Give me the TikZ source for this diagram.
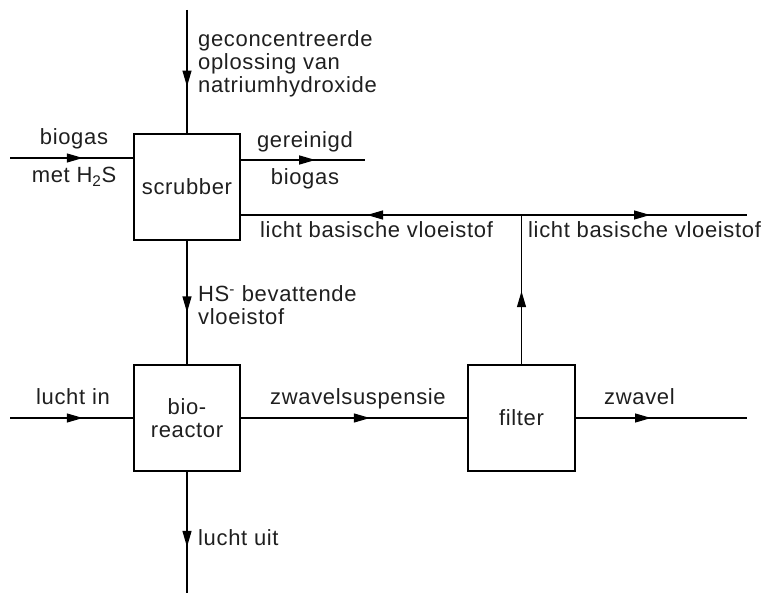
\documentclass[tikz,border=0pt]{standalone}
\usepackage{fontspec}
\setmainfont[LetterSpace=3]{Liberation Sans}
\usetikzlibrary{arrows.meta,decorations.markings,positioning}
\tikzset{
  unit/.style={draw, line width=1.2pt, minimum width=106pt, minimum height=106pt, inner sep=0pt, align=center},
  flow/.style={line width=1.2pt, postaction={decorate},
    decoration={markings, mark=at position #1 with {\arrow{Triangle[length=16pt,width=9pt]}}}},
  lbl/.style={anchor=base west, inner sep=0pt, align=left},
  clbl/.style={anchor=base, inner sep=0pt}
}
\begin{document}
\begin{tikzpicture}[x=1pt,y=-1pt,font=\fontsize{22}{23}\selectfont,text=black!88]
    \useasboundingbox (0,0) rectangle (763,593);
    \node[unit] (scrubber) at (187,187) {scrubber};
    \node[unit] (reactor) at (187,418) {bio-\\reactor};
    \node[unit, minimum width=107pt] (filter) at (521.5,418) {filter};
    \coordinate (naohin) at (187,10);
    \coordinate (biogasin) at (10,158);
    \coordinate (gasuit) at (365,160);
    \coordinate (split) at (521.5,215);
    \coordinate (retour) at (747,215);
    \coordinate (luchtin) at (10,418);
    \coordinate (zwaveluit) at (747,418);
    \coordinate (luchtuit) at (187,593);
    \draw[flow=0.62] (naohin) -- (scrubber.north);
    \draw[flow=0.59] (biogasin) -- (biogasin -| scrubber.west);
    \draw[flow=0.6] (scrubber.east |- gasuit) -- (gasuit);
    \draw[flow=0.55] (split) -- (split -| scrubber.east);
    \draw[flow=0.57] (split) -- (retour);
    \draw[flow=0.49] (filter.north) -- (split);
    \draw[flow=0.58] (scrubber) -- (reactor);
    \draw[flow=0.59] (luchtin) -- (reactor);
    \draw[flow=0.57] (reactor) -- (filter);
    \draw[flow=0.44] (filter) -- (zwaveluit);
    \draw[flow=0.62] (reactor) -- (luchtuit);
    \node[lbl] (naohtxt) at (198,93) {geconcentreerde\\oplossing van\\natriumhydroxide};
    \node[clbl] (biogas1) at (74,145) {biogas};
    \node[clbl] (biogas2) at (74,183) {met H\textsubscript{2}S};
    \node[clbl] (schoon1) at (305,148) {gereinigd};
    \node[clbl] (schoon2) at (305,185) {biogas};
    \node[lbl] (retour1) at (260,238) {licht basische vloeistof};
    \node[lbl] (retour2) at (528,238) {licht basische vloeistof};
    \node[lbl] (hstxt) at (198,325) {HS\textsuperscript{-} bevattende\\vloeistof};
    \node[clbl] (luchtintxt) at (73,405) {lucht in};
    \node[lbl] (suspensie) at (270,405) {zwavelsuspensie};
    \node[lbl] (zwaveltxt) at (604,405) {zwavel};
    \node[lbl] (luchtuittxt) at (198,545) {lucht uit};
\end{tikzpicture}
\end{document}
